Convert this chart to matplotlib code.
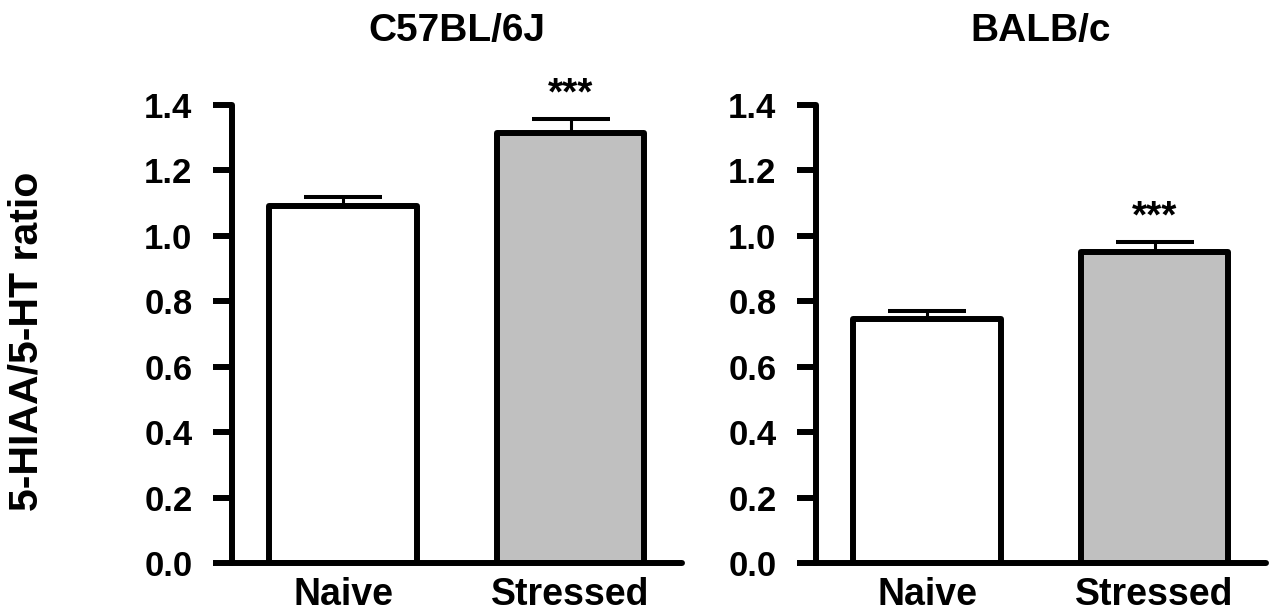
import numpy as np
import matplotlib
matplotlib.use("Agg")
import matplotlib.pyplot as plt

plt.rcParams['font.family'] = ['Liberation Sans', 'DejaVu Sans']
plt.rcParams['font.weight'] = 'bold'

# data
groups = ["Naive", "Stressed"]
strains = ["C57BL/6J", "BALB/c"]
c57_means = [1.092, 1.315]
c57_sem = [0.027, 0.043]
balb_means = [0.745, 0.952]
balb_sem = [0.025, 0.029]
stars = ["", "***"]
bar_colors = ["white", "#c0c0c0"]
yticks = [0.0, 0.2, 0.4, 0.6, 0.8, 1.0, 1.2, 1.4]

fig = plt.figure(figsize=(12.74, 6.13), dpi=100)
ax_l = fig.add_axes([232 / 1274, 1 - 563 / 613, 450 / 1274, 458 / 613])
ax_r = fig.add_axes([816 / 1274, 1 - 563 / 613, 450 / 1274, 458 / 613])

lw = 4.3
for ax, title, means, sem in [(ax_l, strains[0], c57_means, c57_sem),
                              (ax_r, strains[1], balb_means, balb_sem)]:
    x = np.arange(len(groups))
    # error bars (upper only) drawn under the bars
    ax.errorbar(x, means, yerr=[np.zeros(len(sem)), sem], fmt='none',
                ecolor='black', elinewidth=2.2, capsize=28, capthick=2.9,
                zorder=1)
    bars = ax.bar(x, means, width=0.65, color=bar_colors, edgecolor='black',
                  linewidth=lw, zorder=2)
    for b in bars:
        b.set_joinstyle('round')
    for xi, m, s, st in zip(x, means, sem, stars):
        if st:
            ax.text(xi, m + s + 0.075, st, ha='center', va='center',
                    fontsize=28, fontweight='bold')
    ax.set_xlim(-0.488, 1.49)
    ax.set_ylim(0, 1.4)
    ax.set_yticks(yticks)
    ax.set_yticklabels([f"{t:.1f}" for t in yticks])
    ax.set_xticks(x)
    ax.set_xticklabels(groups)
    ax.tick_params(axis='y', length=13.5, width=lw, labelsize=25, pad=15)
    ax.tick_params(axis='x', length=0, labelsize=27, pad=10)
    for lab in ax.get_xticklabels() + ax.get_yticklabels():
        lab.set_fontweight('bold')
    ax.spines['top'].set_visible(False)
    ax.spines['right'].set_visible(False)
    for sp in ['left', 'bottom']:
        ax.spines[sp].set_linewidth(lw)
        ax.spines[sp].set_capstyle('round')
    ax.text(0.5, 1.162, title, transform=ax.transAxes, ha='center',
            va='center', fontsize=28, fontweight='bold')
    ax.patch.set_visible(False)

fig.text(27 / 1274, 1 - 341 / 613, "5-HIAA/5-HT ratio", rotation=90,
         ha='center', va='center', fontsize=29.5, fontweight='bold')

fig.savefig("out.png", dpi=100)
